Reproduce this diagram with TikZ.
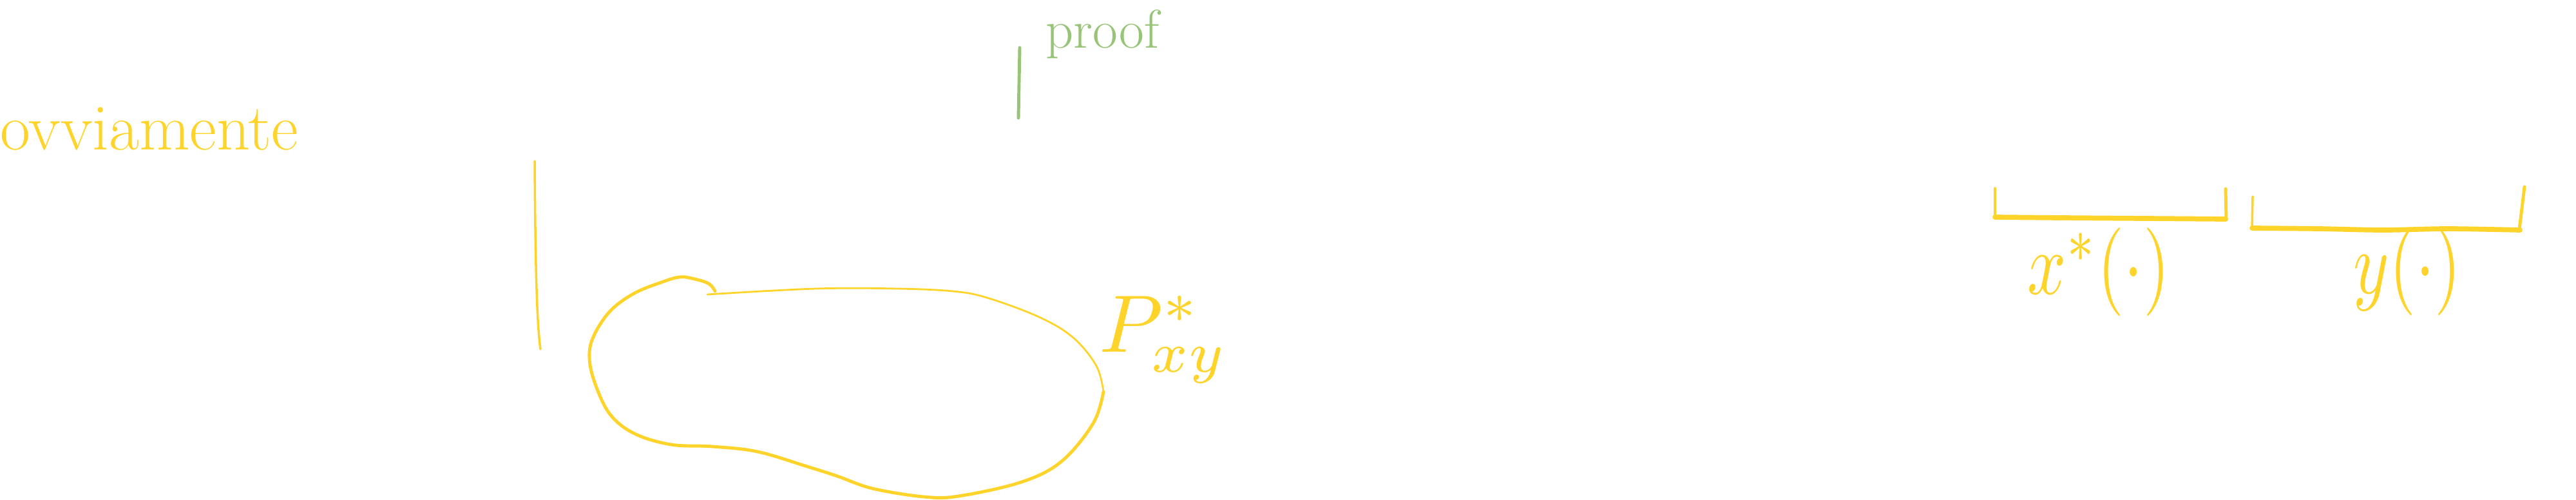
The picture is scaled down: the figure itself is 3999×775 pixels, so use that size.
\documentclass[tikz,border=0pt]{standalone}
\usepackage{graphicx}
\usepackage{xcolor}
\usetikzlibrary{positioning}
\definecolor{skyellow}{RGB}{255,212,42}
\definecolor{skgreen}{RGB}{152,196,120}
\newcommand{\bigmath}[1]{\scalebox{3.6}{$#1$}}
\newcommand{\narrowmath}[1]{\scalebox{3.0}[3.9]{$#1$}}
\tikzset{
  ink/.style={draw=skyellow, line cap=round, line join=round, line width=1.4pt},
  thinink/.style={ink, line width=0.8pt},
  boldink/.style={ink, line width=2.2pt},
  greenink/.style={draw=skgreen, line cap=round, line width=1.4pt},
  note/.style={text=skyellow, inner sep=0pt, anchor=base west, font=\fontsize{29}{32}\selectfont},
  greennote/.style={note, text=skgreen, font=\fontsize{24}{28}\selectfont},
  mathnote/.style={note, font=\normalsize}
}

\begin{document}
\begin{tikzpicture}[x=0.01cm, y=-0.01cm]
  \useasboundingbox (0,0) rectangle (3999,775);

  % left word and stroke
  \node[note] (ovv) at (0,232) {ovviamente};
  \draw[ink, line width=1pt] (830,250) .. controls (831,400) and (833,500) .. (839,542);

  % the blob
  \draw[thinink] plot[smooth, tension=0.6] coordinates {(1098,457) (1266,448) (1393,448) (1479,452) (1532,462) (1613,492) (1666,524) (1702,568) (1713,608)};
  \draw[ink] plot[smooth, tension=0.6] coordinates {(1713,608) (1697,657) (1648,716) (1586,748) (1488,770) (1434,771) (1354,758) (1300,739) (1253,724) (1176,701) (1106,693) (1042,690) (985,673) (947,643) (924,596) (915,556) (921,523) (947,483) (985,455) (1030,437) (1055,430) (1074,432) (1100,440) (1110,452)};
  \node[mathnote] (pxy) at (1706,546) {\bigmath{P^*_{xy}}};

  % green remark
  \draw[greenink] (1583,74) -- (1581,183);
  \node[greennote] (proof) at (1623,74) {proof};

  % brackets
  \draw[ink, line width=1pt] (3097,292) -- (3097,338);
  \draw[boldink] plot[smooth] coordinates {(3097,337) (3200,338) (3330,339) (3455,340)};
  \draw[ink] (3455,293) -- (3456,341);
  \node[mathnote, anchor=base] (xstar) at (3258,456) {\narrowmath{x^*(\cdot)}};

  \draw[ink, line width=1pt] (3497,305) -- (3496,354);
  \draw[boldink] plot[smooth] coordinates {(3496,354) (3600,355) (3700,357) (3800,355) (3912,357)};
  \draw[ink] (3919,290) -- (3911,356);
  \node[mathnote, anchor=base] (yfun) at (3737,455) {\narrowmath{y(\cdot)}};
\end{tikzpicture}
\end{document}
